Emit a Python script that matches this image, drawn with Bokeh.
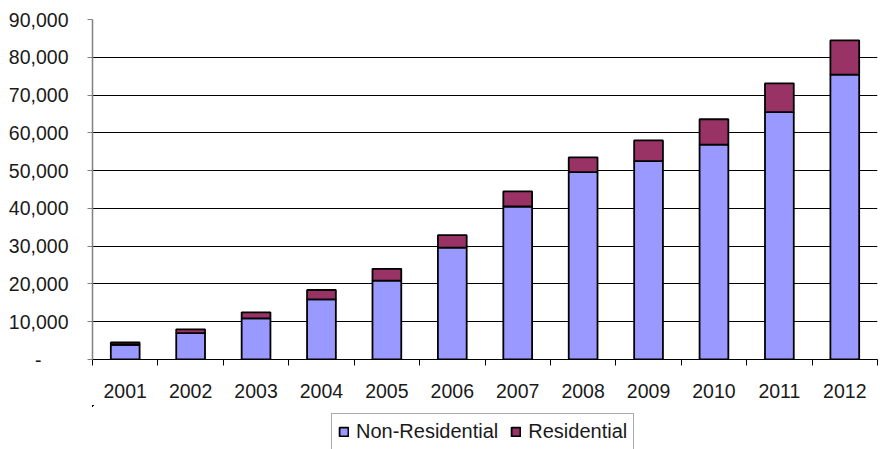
from bokeh.plotting import figure
from bokeh.layouts import column
from bokeh.models import ColumnDataSource, Range1d, FixedTicker, NumeralTickFormatter, Legend, LegendItem
from bokeh.embed import file_html
from bokeh.resources import INLINE

years = ["2001", "2002", "2003", "2004", "2005", "2006", "2007", "2008", "2009", "2010", "2011", "2012"]
non_residential = [3900, 7000, 10900, 15900, 20900, 29600, 40500, 49600, 52500, 56900, 65500, 75400]
residential = [600, 1000, 1600, 2500, 3100, 3300, 4000, 3900, 5500, 6700, 7600, 9100]
series_labels = ["Non-Residential", "Residential"]
series_colors = ["#9999FF", "#993366"]
y_ticks = [0, 10000, 20000, 30000, 40000, 50000, 60000, 70000, 80000, 90000]

FONT = "Liberation Sans"
xs = [i + 0.5 for i in range(len(years))]
source = ColumnDataSource(dict(x=xs, year=years, nonres=non_residential, res=residential))

p = figure(width=880, height=405, output_backend="svg", toolbar_location=None,
           x_range=Range1d(0, len(years)), y_range=Range1d(0, max(y_ticks)),
           min_border_left=92, min_border_right=3, min_border_top=19, min_border_bottom=46)
p.outline_line_color = None
p.background_fill_color = "white"

renderers = p.vbar_stack(["nonres", "res"], x="x", width=0.44, source=source,
                         fill_color=series_colors, line_color="black", line_width=1.8)

# y axis
p.yaxis.ticker = FixedTicker(ticks=y_ticks)
p.yaxis.formatter = NumeralTickFormatter(format="0,0")
p.yaxis.major_label_overrides = {0: "-\u00a0\u00a0\u00a0\u00a0\u00a0"}
p.yaxis.major_label_text_font = FONT
p.yaxis.major_label_text_font_size = "19.5px"
p.yaxis.major_label_text_color = "#1a1a1a"
p.yaxis.major_tick_out = 5
p.yaxis.major_tick_in = 0
p.yaxis.minor_tick_out = 0
p.yaxis.minor_tick_in = 0
p.yaxis.major_label_standoff = 19
p.yaxis.axis_line_color = "#808080"
p.yaxis.axis_line_width = 1.5
p.yaxis.major_tick_line_color = "#808080"

# x axis
p.xaxis.ticker = FixedTicker(ticks=xs, minor_ticks=list(range(len(years) + 1)))
p.xaxis.major_label_overrides = {x: y for x, y in zip(xs, years)}
p.xaxis.major_label_text_font = FONT
p.xaxis.major_label_text_font_size = "19.5px"
p.xaxis.major_label_text_color = "#1a1a1a"
p.xaxis.major_tick_out = 0
p.xaxis.major_tick_in = 0
p.xaxis.minor_tick_out = 6
p.xaxis.minor_tick_in = 0
p.xaxis.minor_tick_line_color = "black"
p.xaxis.major_label_standoff = 18
p.xaxis.axis_line_color = "black"

p.xgrid.grid_line_color = None
p.ygrid.grid_line_color = "black"
p.ygrid.grid_line_width = 1

# legend strip below the chart (its swatches come from the same series, drawn out of view)
lg = figure(width=880, height=44, output_backend="svg", toolbar_location=None,
            x_range=Range1d(100, 101), y_range=Range1d(-1e6, -1e6 + 1),
            min_border_left=92, min_border_right=3, min_border_top=0, min_border_bottom=0,
            x_axis_type=None, y_axis_type=None)
lg.outline_line_color = None
lg.xgrid.grid_line_color = None
lg.ygrid.grid_line_color = None
lg_r = lg.vbar_stack(["nonres", "res"], x="x", width=0.44, source=source,
                     fill_color=series_colors, line_color="black", line_width=1.8)

legend = Legend(items=[LegendItem(label=series_labels[0], renderers=[lg_r[0]]),
                       LegendItem(label=series_labels[1], renderers=[lg_r[1]])],
                orientation="horizontal", location=(239, -1),
                label_text_font=FONT, label_text_font_size="20px", label_text_color="#1a1a1a",
                glyph_width=11, glyph_height=11, label_standoff=7, spacing=12,
                padding=6, margin=0, border_line_color="#555555", border_line_width=1,
                background_fill_color="white", background_fill_alpha=1)
lg.add_layout(legend, "center")

open("out.html", "w").write(file_html(column(p, lg, spacing=0), INLINE))
